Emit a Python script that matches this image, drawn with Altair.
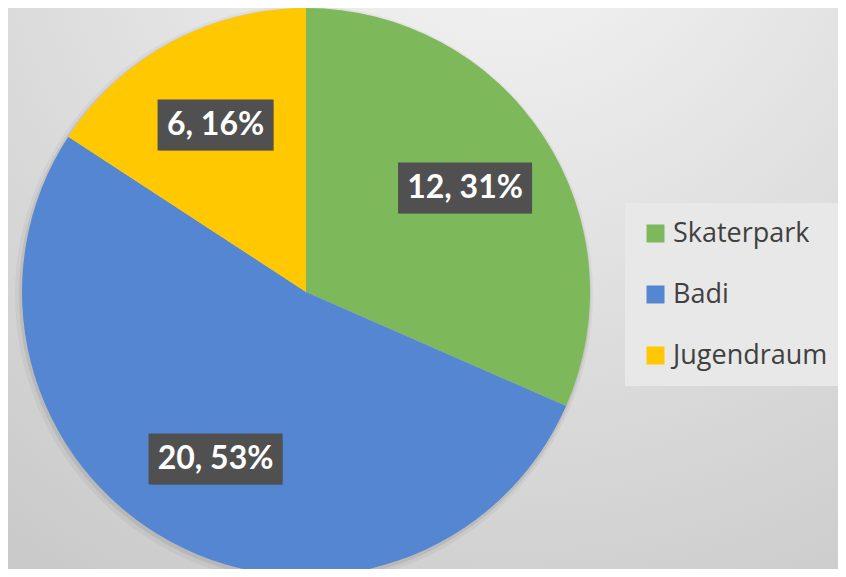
import altair as alt
import pandas as pd

# ---- data ----
categories = ["Skaterpark", "Badi", "Jugendraum"]
values = [12, 20, 6]
percent_labels = ["31%", "53%", "16%"]
colors = ["#7db95b", "#5586d2", "#ffc800"]

# ---- layout constants ----
W, H = 830, 561
CX, CY, R = 298, 284, 284
LR = 190

df = pd.DataFrame({
    "category": categories,
    "value": values,
    "pct": percent_labels,
    "idx": list(range(len(categories))),
})
base = alt.Chart(df)

bg = alt.Chart(pd.DataFrame({"a": [0]})).mark_rect(
    fill={
        "gradient": "radial",
        "x1": 0.6, "y1": 0.0, "x2": 0.6, "y2": 0.0, "r1": 0, "r2": 1.0,
        "stops": [
            {"offset": 0, "color": "#f6f6f6"},
            {"offset": 1, "color": "#cacaca"},
        ],
    }
).encode(x=alt.value(0), x2=alt.value(W), y=alt.value(0), y2=alt.value(H))

sh1 = alt.Chart(pd.DataFrame({"a": [0]})).mark_arc(
    outerRadius=R + 5, theta=0, theta2=6.2832, color="#000000", opacity=0.04
).encode(x=alt.value(CX - 2), y=alt.value(CY + 3))
sh2 = alt.Chart(pd.DataFrame({"a": [0]})).mark_arc(
    outerRadius=R + 2, theta=0, theta2=6.2832, color="#000000", opacity=0.07
).encode(x=alt.value(CX - 1), y=alt.value(CY + 2))

pie = base.mark_arc(outerRadius=R).encode(
    theta=alt.Theta("value:Q", stack=True),
    order=alt.Order("idx:Q"),
    color=alt.Color(
        "category:N",
        scale=alt.Scale(domain=categories, range=colors),
        sort=categories,
        legend=alt.Legend(
            orient="none", legendX=617, legendY=195, title=None,
            fillColor="#e8e8e8", padding=17, symbolType="square",
            symbolSize=324, symbolStrokeWidth=0, symbolOpacity=1,
            labelFont="Open Sans", labelFontSize=27, labelColor="#404040",
            rowPadding=33, labelOffset=4, labelLimit=300,
        ),
    ),
    x=alt.value(CX),
    y=alt.value(CY),
)

lab = base.transform_joinaggregate(
    total="sum(value)"
).transform_window(
    cum="sum(value)", sort=[alt.SortField("idx")], frame=[None, 0]
).transform_calculate(
    mid="(datum.cum - datum.value/2)/datum.total*2*PI",
).transform_calculate(
    px=f"{CX} + {LR}*sin(datum.mid)",
    py=f"{CY} - {LR}*cos(datum.mid)",
    label="datum.value + ', ' + datum.pct",
).transform_calculate(
    hw="length(datum.label)*9 + 4",
).transform_calculate(
    bx1="datum.px - datum.hw",
    bx2="datum.px + datum.hw",
    by1="datum.py - 25.5",
    by2="datum.py + 25.5",
)

rect_enc = dict(
    x=alt.X("bx1:Q", scale=None, axis=None),
    x2="bx2:Q",
    y=alt.Y("by1:Q", scale=None, axis=None),
    y2="by2:Q",
)
lab_shadow = lab.mark_rect(color="#000000", opacity=0.25, xOffset=3, yOffset=4).encode(**rect_enc)
lab_rect = lab.mark_rect(color="#505050").encode(**rect_enc)
lab_text = lab.mark_text(
    font="Lato", fontWeight="bold", fontSize=32, color="white",
    align="center", baseline="middle",
).encode(
    x=alt.X("px:Q", scale=None, axis=None),
    y=alt.Y("py:Q", scale=None, axis=None),
    text="label:N",
)

chart = alt.layer(bg, sh1, sh2, pie, lab_shadow, lab_rect, lab_text).properties(
    width=W, height=H,
    autosize=alt.AutoSizeParams(type="none"),
    padding=0,
).configure_view(stroke=None)

chart.save("out.html", embed_options={"renderer": "svg", "actions": False})
